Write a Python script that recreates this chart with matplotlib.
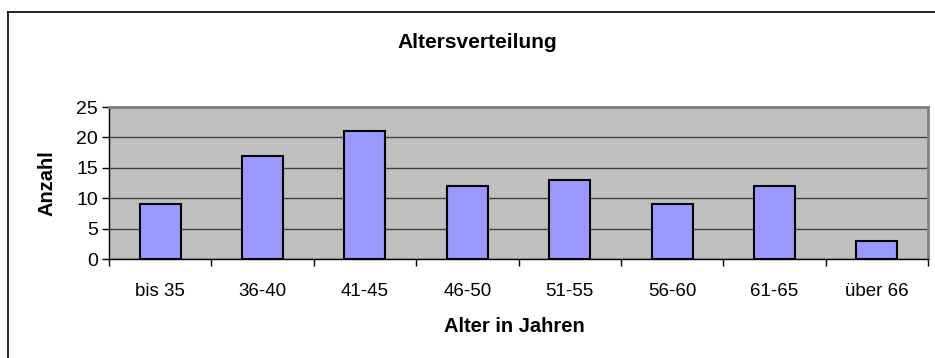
import matplotlib
matplotlib.use("Agg")
import matplotlib.pyplot as plt
from matplotlib.lines import Line2D

categories = ["bis 35", "36-40", "41-45", "46-50", "51-55", "56-60", "61-65", "über 66"]
values = [9, 17, 21, 12, 13, 9, 12, 3]
yticks = [0, 5, 10, 15, 20, 25]

plt.rcParams['font.family'] = ['Liberation Sans', 'DejaVu Sans']

fig = plt.figure(figsize=(9.35, 3.58), dpi=100)
ax = fig.add_axes([109/935, 99/358, 819/935, 152/358])
ax.set_facecolor('#C0C0C0')

x = list(range(len(categories)))
ax.bar(x, values, width=0.4, color='#9999FF', edgecolor='black', linewidth=1.5, zorder=3)

ax.set_xlim(-0.5, len(categories) - 0.5)
ax.set_ylim(0, 25)
ax.set_yticks(yticks)
ax.yaxis.grid(True, color='#404040', linewidth=1, zorder=1)
ax.set_axisbelow(True)

ax.set_xticks(x)
ax.set_xticklabels(categories, fontsize=13.5)
ax.tick_params(axis='x', length=0, pad=17)
ax.set_xticks([i - 0.5 for i in range(len(categories) + 1)], minor=True)
ax.tick_params(axis='x', which='minor', length=5, width=1, color='black', direction='out')
ax.tick_params(axis='y', length=5, width=1, labelsize=14, pad=3)

for s in ['top', 'right']:
    ax.spines[s].set_color('#808080')
    ax.spines[s].set_linewidth(2)
ax.spines['left'].set_color('black')
ax.spines['bottom'].set_color('black')
ax.spines['left'].set_linewidth(1)
ax.spines['bottom'].set_linewidth(1)

fig.text(477/935, 1 - 42/358, "Altersverteilung", ha='center', va='center',
         fontsize=15, fontweight='bold')
fig.text(514/935, 1 - 327/358, "Alter in Jahren", ha='center', va='center',
         fontsize=14.5, fontweight='bold')
fig.text(47/935, 1 - 183/358, "Anzahl", ha='center', va='center', rotation=90,
         fontsize=14.5, fontweight='bold')

# chart frame (top and left edges visible)
fig.add_artist(Line2D([8/935, 1.0], [1 - 12/358, 1 - 12/358], transform=fig.transFigure,
                      color='black', linewidth=1.2))
fig.add_artist(Line2D([8/935, 8/935], [0, 1 - 12/358], transform=fig.transFigure,
                      color='black', linewidth=1.2))

fig.savefig("out.png", dpi=100)
